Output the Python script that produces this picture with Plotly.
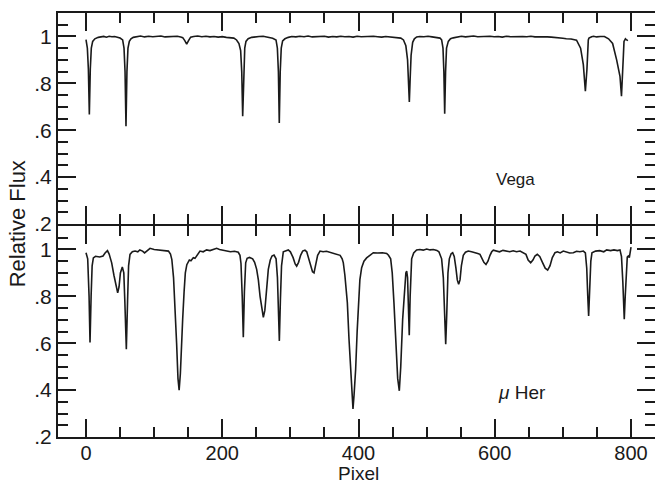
import plotly.graph_objects as go

# ---- Vega spectrum (top panel) ----
vega_pixel = [0, 2, 3.5, 4.9, 6.3, 7.8, 9.8, 13, 18, 22, 26, 30, 34, 38, 42, 46, 50,
              53.8, 55.8, 57.3, 58.7, 60.1, 61.6, 63.6, 66, 69.4, 74, 80, 86, 92, 98,
              104, 110, 116, 122, 128, 134, 139, 142, 145, 147.8, 150.5, 153.6, 158,
              164, 170, 176, 182, 188, 194, 200, 206, 212, 217, 221, 224.5, 227, 228.6,
              230, 231.4, 233, 234.8, 238, 243.2, 248, 254, 260, 266, 270, 274, 278.9,
              280.9, 282.4, 283.7, 285.1, 286.6, 288.6, 292, 297, 302, 308, 314, 320,
              326, 332, 338, 344, 350, 356, 362, 368, 374, 380, 386, 392, 398, 404, 410,
              416, 422, 428, 434, 440, 446, 452, 457, 462, 466, 469.5, 472, 473.4, 474.6,
              475.8, 477.2, 479.5, 482, 485.4, 490, 496, 502, 508, 514, 519.6, 522, 524,
              525.3, 526.5, 527.8, 529.2, 531.8, 535, 539.1, 545, 551, 557, 563, 569,
              575, 581, 587, 593, 599, 605, 611, 617, 623, 629, 635, 641, 647, 653, 659,
              665, 671, 677, 683, 689, 695, 700, 705, 712, 720, 726, 730, 733, 735.3, 736.3,
              737.3, 738.3, 739.6, 742.2, 745, 749.5, 755, 761, 767, 773, 778.9, 783.8,
              786, 787.8, 788.8, 789.7, 790.7, 791.8, 793.6, 795.5, 797.5, 799, 800.5]
vega_flux = [0.986, 0.95, 0.86, 0.667, 0.86, 0.95, 0.979, 0.99, 0.996, 0.998, 1.0, 0.997,
             1.001, 0.999, 1.0, 0.997, 0.993,
             0.985, 0.95, 0.85, 0.617, 0.85, 0.95, 0.979, 0.99, 0.996, 0.999, 1.002, 0.998,
             1.001, 0.999, 1.0, 1.002, 0.998, 1.0, 0.999, 1.001, 0.998, 0.995, 0.982, 0.967,
             0.982, 0.997, 1.0, 1.002, 0.999, 1.001, 0.998, 1.0, 0.997, 0.999, 0.996, 0.995,
             0.993, 0.985, 0.97, 0.94, 0.85, 0.66, 0.85, 0.95, 0.979, 0.99, 0.996, 0.999,
             1.0, 1.001, 0.998, 0.997, 0.992, 0.985,
             0.95, 0.85, 0.631, 0.85, 0.95, 0.981, 0.99, 0.996, 1.0, 0.998, 1.001, 0.999,
             1.002, 0.998, 1.0, 0.999, 1.001, 0.997, 1.0, 0.998, 1.001, 0.999, 1.0, 0.997,
             1.001, 0.999, 1.0, 0.998, 1.001, 0.999, 0.997, 1.0, 0.998, 0.996, 0.995, 0.993,
             0.985, 0.96, 0.90, 0.82, 0.72, 0.82, 0.92, 0.975, 0.99, 0.998, 1.0, 0.999,
             1.001, 0.998, 0.997, 0.993, 0.985, 0.95, 0.85, 0.67, 0.85, 0.95, 0.979, 0.99,
             0.994, 0.999, 1.001, 0.998, 1.0, 1.002, 0.999, 1.0, 0.998, 1.001, 0.999, 1.0,
             0.997, 1.001, 0.999, 1.0, 0.998, 1.0, 0.999, 1.001, 0.998, 0.999, 1.0, 0.998,
             0.997, 0.996, 0.993, 0.992, 0.99, 0.989, 0.984, 0.95, 0.88,
             0.766, 0.86, 0.95, 0.985, 0.993, 0.996, 0.999, 1.001, 0.998, 1.0, 1.0, 0.99,
             0.97, 0.90, 0.83, 0.745, 0.83, 0.92, 0.979, 0.988, 0.99, 0.985, 0.982]

# ---- mu Her spectrum (bottom panel) ----
muher_pixel = [0, 2.5, 4.5, 5.9, 7.5, 9, 10.8, 14, 20, 25, 28, 31.5, 34, 37.7, 41, 44, 46.5,
               48.5, 50.5, 53.3, 55.5, 57, 59.2, 61, 62.5, 64.6, 68, 72, 76, 79, 83, 86, 90,
               94, 100, 108, 114, 121, 124, 126, 128.5, 130.6, 133, 135, 136.7, 138.5, 140,
               141.9, 144, 145.8, 148, 151.7, 154, 157.5, 160, 164, 167.3, 172, 177, 182,
               187, 191.8, 196, 201, 206.5, 212, 218, 223.5, 226, 227.5, 229.3, 230.9,
               232.5, 234.4, 236.5, 240, 244.6, 247.5, 250.5, 253, 255.5, 258, 260.3,
               262.5, 265, 267.6, 270.5, 273, 276, 279, 281, 282.5, 283.8, 285.3, 287,
               289.6, 293, 296.9, 300, 304, 307, 309.2, 312, 315, 318, 321.4, 324, 327,
               330, 332.5, 334.7, 337, 340, 343.5, 348, 353, 358, 363, 368, 373, 376,
               377.7, 380, 382, 383.6, 386, 388.5, 390.5, 391.9, 393.5, 395.8, 398, 399.7,
               402, 404.6, 408, 411.9, 416, 421.7, 428, 435, 441.3, 444, 447.2, 449.5, 452,
               455, 457.5, 459.9, 462, 464.8, 467.5, 469.5, 470.7, 472, 473.3, 474.5,
               475.8, 478, 481, 485.3, 490, 495, 500, 505, 510, 515, 518, 520, 522, 524.5,
               526.5, 528, 529.5, 531.3, 533.3, 536, 538.2, 540.5, 543, 545, 547, 549, 551,
               553.8, 557, 561.1, 566, 571, 575, 578.3, 581, 584, 587.1, 590, 593, 595.5,
               597.9, 602, 607, 612, 617.5, 622, 627, 632, 637.1, 641, 645.8, 649, 652.7,
               656, 659, 662.4, 666, 670, 674, 677.6, 681, 684.5, 688.4, 692, 696, 700.6,
               705, 710, 715.3, 720, 725, 730, 733, 735, 736.5, 737.8, 739.2, 741, 742.7,
               748, 754, 760, 764.3, 770, 775, 780, 783.8, 786, 788, 790.1, 791.5, 793,
               794.5, 796, 797.5, 800]
muher_flux = [0.986, 0.96, 0.80, 0.603, 0.80, 0.93, 0.964, 0.971, 0.968, 0.972, 0.985,
              0.995, 0.98, 0.943, 0.89, 0.84, 0.815, 0.84, 0.90, 0.925, 0.90, 0.78, 0.574,
              0.78, 0.93, 0.979, 0.99, 0.993, 0.99, 0.998, 0.993, 0.985, 0.995, 1.005, 1.0,
              0.998, 0.997, 0.993, 0.98, 0.957, 0.88, 0.773, 0.60, 0.45, 0.40, 0.47, 0.60,
              0.702, 0.82, 0.90, 0.935, 0.955, 0.952, 0.965, 0.962, 0.98, 0.993, 0.99,
              0.998, 0.995, 1.0, 1.005, 1.0, 0.997, 0.995, 0.99, 0.992, 0.988, 0.975, 0.94,
              0.80, 0.626, 0.82, 0.943, 0.962, 0.966, 0.96, 0.945, 0.915, 0.87, 0.80, 0.74,
              0.71, 0.74, 0.82, 0.915, 0.955, 0.972, 0.976, 0.96, 0.88, 0.75, 0.61, 0.78,
              0.93, 0.99, 0.995, 0.998, 0.99, 0.965, 0.938, 0.929, 0.945, 0.975, 0.993,
              0.997, 0.99, 0.96, 0.92, 0.905, 0.90, 0.93, 0.975, 0.993, 0.99, 0.992, 0.988,
              0.985, 0.98, 0.975, 0.96, 0.943, 0.89, 0.83, 0.773, 0.62, 0.489, 0.37, 0.32,
              0.38, 0.489, 0.65, 0.773, 0.87, 0.922, 0.95, 0.964, 0.975, 0.986, 0.985,
              0.986, 0.983, 0.975, 0.96, 0.90, 0.773, 0.60, 0.45, 0.397, 0.50, 0.702, 0.85,
              0.90, 0.908, 0.88, 0.75, 0.634, 0.80, 0.96, 0.985, 0.998, 1.0, 0.997, 1.002,
              0.998, 1.0, 0.996, 0.99, 0.975, 0.96, 0.88, 0.72, 0.596, 0.72, 0.90, 0.96,
              0.982, 0.986, 0.97, 0.92, 0.87, 0.851, 0.87, 0.93, 0.975, 0.988, 0.993, 0.99,
              0.987, 0.983, 0.979, 0.965, 0.945, 0.936, 0.95, 0.975, 0.99, 0.997, 0.995,
              0.99, 0.996, 0.993, 0.99, 0.994, 0.99, 0.993, 0.988, 0.979, 0.955, 0.943,
              0.955, 0.972, 0.979, 0.97, 0.945, 0.92, 0.912, 0.93, 0.965, 0.986, 0.99,
              0.985, 0.993, 0.99, 0.985, 0.986, 0.992, 0.99, 0.993, 0.985, 0.92, 0.80,
              0.716, 0.82, 0.95, 0.986, 0.993, 0.995, 0.99, 0.998, 0.995, 0.998, 0.995,
              0.998, 0.97, 0.86, 0.702, 0.80, 0.93, 0.967, 0.972, 0.965, 1.01]

x_tick_step = 200
x_minor_step = 50
y_ticks = [0.2, 0.4, 0.6, 0.8, 1.0]
y_tick_labels = [".2", ".4", ".6", ".8", "1"]
star_labels = ["Vega", "<i>\u03bc</i> Her"]

FONT = "Liberation Sans, Arial, Helvetica, sans-serif"
INK = "#1a1a1a"
GAP = 2.0 / 424.0   # so the two 2px frame lines meet on one row

fig = go.Figure()
fig.add_trace(go.Scatter(x=vega_pixel, y=vega_flux, mode="lines", xaxis="x", yaxis="y",
                         line=dict(color=INK, width=1.6), showlegend=False))
fig.add_trace(go.Scatter(x=muher_pixel, y=muher_flux, mode="lines", xaxis="x2", yaxis="y2",
                         line=dict(color=INK, width=1.6), showlegend=False))


def xaxis(anchor, labels):
    return dict(anchor=anchor, domain=[0, 1], range=[-41.1, 835.2], automargin=False,
                tickmode="linear", tick0=0, dtick=x_tick_step,
                ticks="inside", ticklen=18, tickwidth=2, tickcolor=INK,
                minor=dict(ticks="inside", ticklen=10, tickwidth=2, tickcolor=INK,
                           dtick=x_minor_step),
                showline=True, linewidth=2, linecolor=INK, mirror="ticks",
                showgrid=False, zeroline=False, showticklabels=labels,
                ticklabelstandoff=-3,
                tickfont=dict(family=FONT, size=20, color=INK))


def yaxis(anchor, domain):
    return dict(anchor=anchor, domain=domain, range=[0.2, 1.1], automargin=False,
                tickmode="array", tickvals=y_ticks, ticktext=y_tick_labels,
                ticks="inside", ticklen=18, tickwidth=2, tickcolor=INK,
                minor=dict(ticks="inside", ticklen=10, tickwidth=2, tickcolor=INK,
                           tickmode="linear", tick0=0, dtick=0.05),
                showline=True, linewidth=2, linecolor=INK, mirror="ticks",
                showgrid=False, zeroline=False,
                tickfont=dict(family=FONT, size=21, color=INK))


fig.update_layout(
    xaxis=xaxis("y", False),
    yaxis=yaxis("x", [0.5 + GAP / 2, 1.0]),
    xaxis2=xaxis("y2", True),
    yaxis2=yaxis("x2", [0.0, 0.5 - GAP / 2]),
)

fig.add_annotation(x=629.7, y=0.39, xref="x", yref="y", text=star_labels[0], showarrow=False,
                   font=dict(family=FONT, size=17, color=INK))
fig.add_annotation(x=640, y=0.389, xref="x2", yref="y2", text=star_labels[1], showarrow=False,
                   font=dict(family=FONT, size=19, color=INK))
fig.add_annotation(x=-0.0687, y=0.504, xref="paper", yref="paper", text="Relative Flux",
                   textangle=-90, showarrow=False, xanchor="center", yanchor="middle",
                   font=dict(family=FONT, size=22, color=INK))
fig.add_annotation(x=400, y=-0.1145, xref="x2", yref="paper", text="Pixel",
                   showarrow=False, xanchor="center", yanchor="bottom",
                   font=dict(family=FONT, size=19, color=INK))

fig.update_layout(width=655, height=486, margin=dict(l=58, r=0, t=13, b=49),
                  paper_bgcolor="white", plot_bgcolor="white")

fig.write_html("out.html")
